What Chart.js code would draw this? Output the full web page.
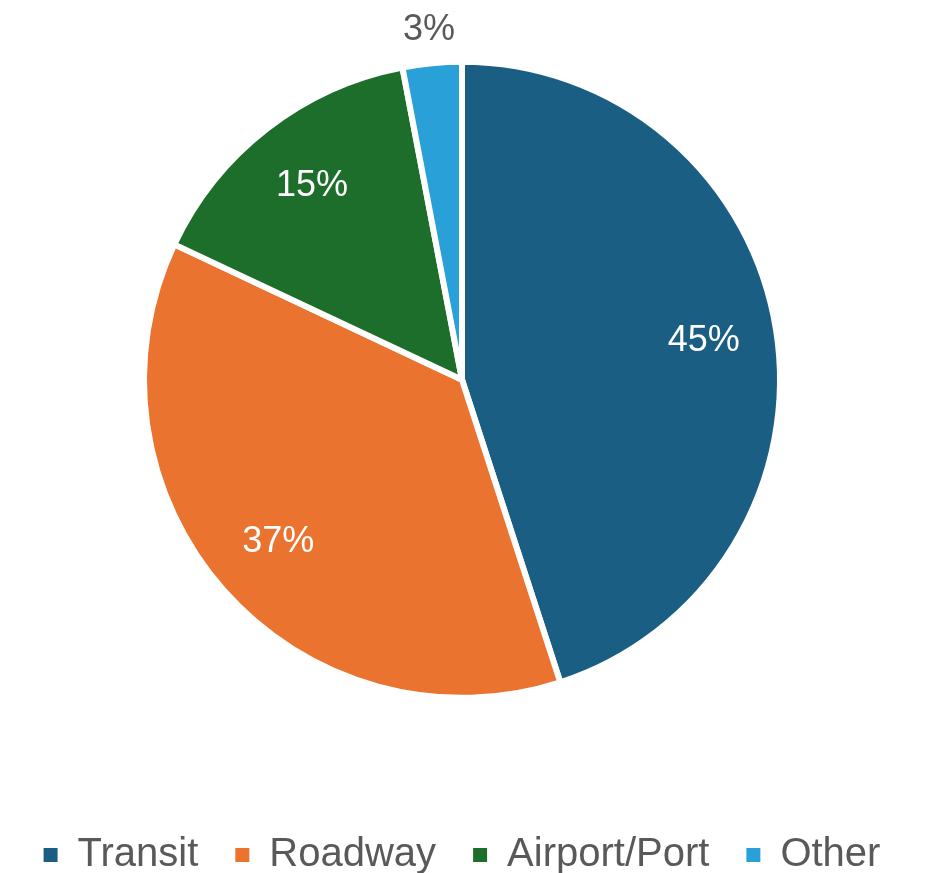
<!DOCTYPE html>
<html>
<head>
<meta charset="utf-8">
<script src="https://cdn.jsdelivr.net/npm/chart.js@4"></script>
<style>
  html, body { margin: 0; padding: 0; background: #fff; overflow: hidden; }
  #wrap { width: 929px; height: 873px; overflow: hidden; }
</style>
</head>
<body>
<!-- canvas a bit taller than the window so the legend row sits lower -->
<div id="wrap"><canvas id="pie" width="929" height="885"></canvas></div>
<script>
const categories = ["Transit", "Roadway", "Airport/Port", "Other"];
const shares = [45, 37, 15, 3];
const sliceColors = ["#1b5e84", "#e9732f", "#1e6e2b", "#2aa0d8"];

// percent labels: inside for big slices, outside for small ones
const percentLabels = {
  id: "percentLabels",
  afterDatasetsDraw(chart) {
    const ctx = chart.ctx;
    const meta = chart.getDatasetMeta(0);
    ctx.save();
    ctx.font = "36px 'Liberation Sans', Arial, sans-serif";
    ctx.textAlign = "center";
    ctx.textBaseline = "middle";
    meta.data.forEach((arc, i) => {
      const p = arc.getProps(["x", "y", "startAngle", "endAngle", "outerRadius"], true);
      const mid = (p.startAngle + p.endAngle) / 2;
      const small = shares[i] < 5;
      const dist = small ? p.outerRadius + 33 : p.outerRadius * 0.77;
      ctx.fillStyle = small ? "#595959" : "#ffffff";
      ctx.fillText(shares[i] + "%", p.x + Math.cos(mid) * dist, p.y + Math.sin(mid) * dist);
    });
    ctx.restore();
  }
};

const baseLabels = (Chart.overrides.pie || Chart.overrides.doughnut).plugins.legend.labels.generateLabels;

new Chart(document.getElementById("pie"), {
  type: "pie",
  data: {
    labels: categories,
    datasets: [{
      data: shares,
      backgroundColor: sliceColors,
      borderColor: "#ffffff",
      borderWidth: 6,
      radius: 318
    }]
  },
  options: {
    responsive: false,
    animation: false,
    layout: { padding: { top: 0, bottom: 0, left: 0, right: 5 } },
    plugins: {
      tooltip: { enabled: false },
      legend: {
        position: "bottom",
        // blank title only used as spacer above the legend row
        title: { display: true, text: " ", font: { size: 12 }, padding: { top: 12, bottom: 12 } },
        labels: {
          boxWidth: 14,
          boxHeight: 14,
          padding: 37,
          color: "#595959",
          font: { family: "'Liberation Sans', Arial, sans-serif", size: 40 },
          generateLabels: (chart) => baseLabels(chart).map(l => ({ ...l, lineWidth: 0 }))
        }
      }
    }
  },
  plugins: [percentLabels]
});
</script>
</body>
</html>
